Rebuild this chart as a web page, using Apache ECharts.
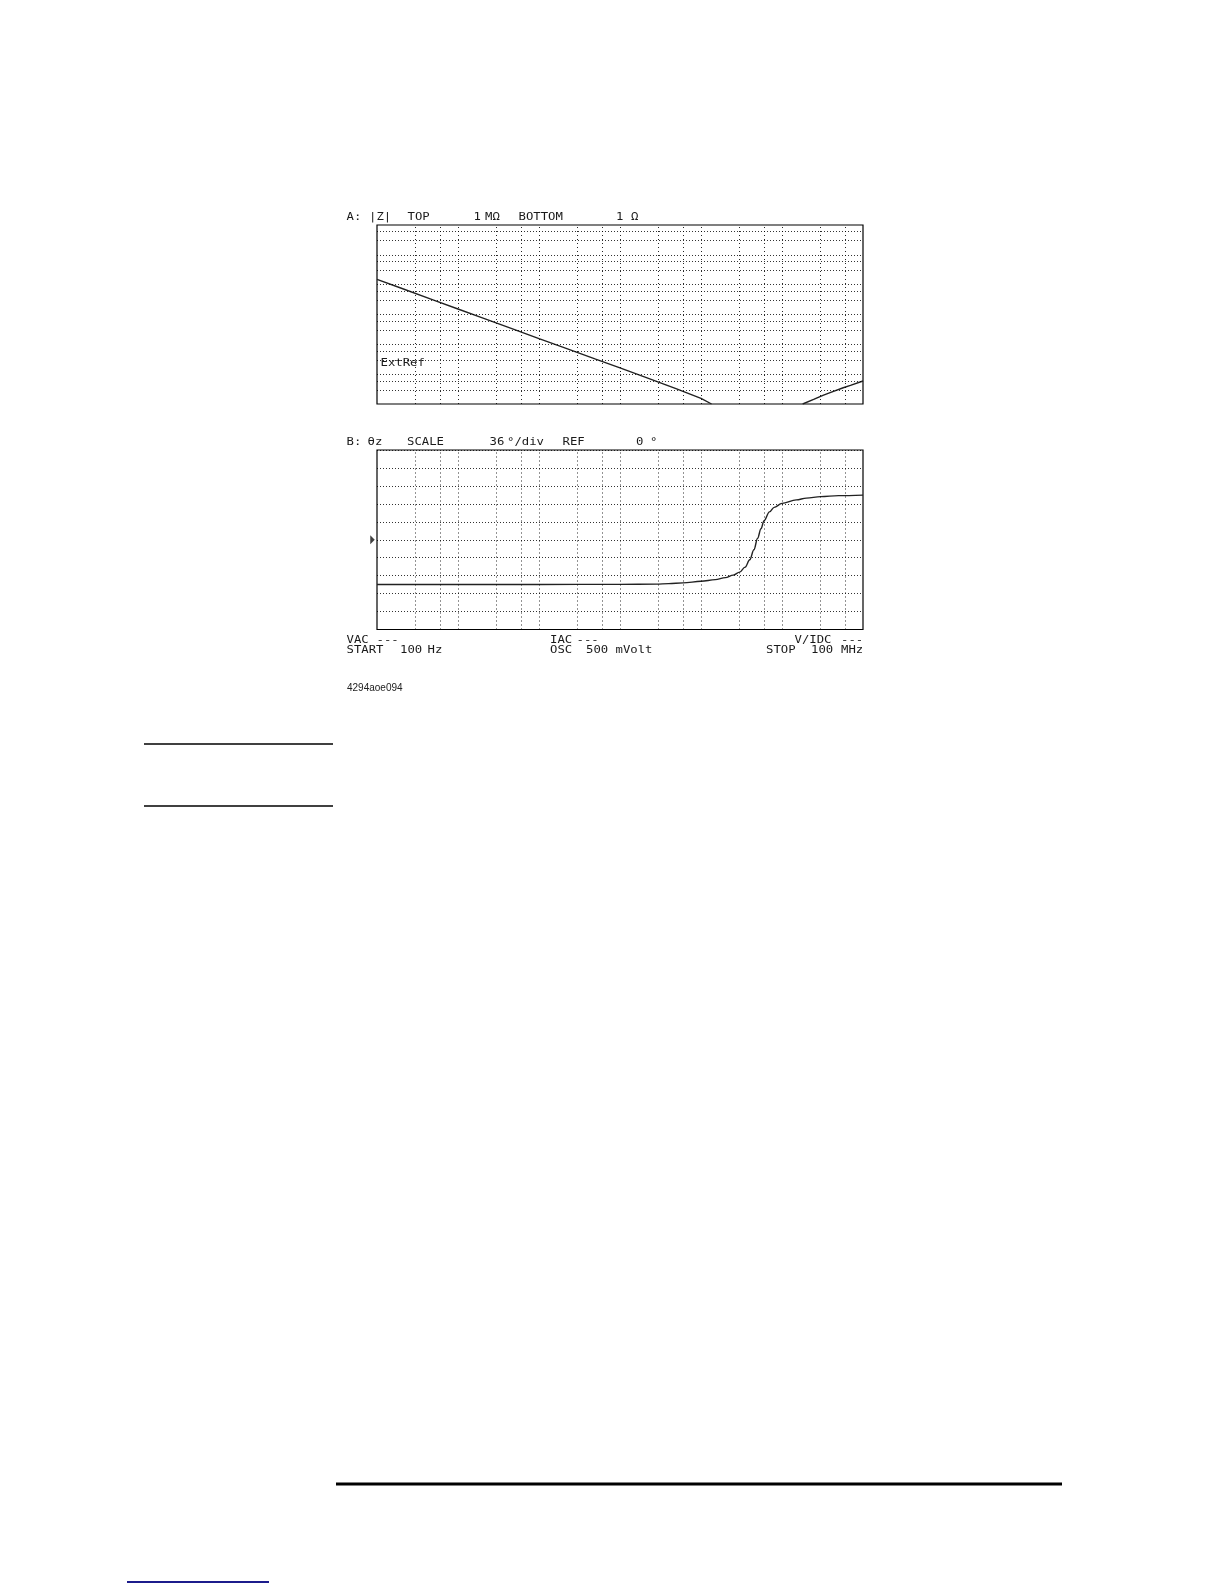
<!DOCTYPE html>
<html><head><meta charset="utf-8">
<script src="https://cdn.jsdelivr.net/npm/echarts@6/dist/echarts.min.js"></script>
<style>html,body{margin:0;padding:0;background:#fff}#c{width:1224px;height:1584px}</style>
</head><body><div id="c"></div>
<script>
const freqStartHz = 100;
const freqStopHz = 1e8;
const zTopOhm = 1e6;
const zBottomOhm = 1;
const phaseMinDeg = -180;
const phaseMaxDeg = 180;
const phaseDegPerDiv = 36;
const phaseRefDeg = 0;

// Trace A : |Z| (ohm) vs frequency (Hz); null = off-scale below BOTTOM
const zFreqHz = [100, 200, 500, 1e3, 2e3, 5e3, 1e4, 2e4, 5e4, 1e5, 2e5, 5e5, 1e6, 1.35e6, 5e6, 1.8e7, 2.5e7, 3.2e7, 4e7, 5.7e7, 7e7, 1e8];
const zMagOhm = [15100, 7600, 3050, 1530, 770, 310, 156, 79, 32, 16.2, 8.1, 3.2, 1.55, 1.0, null, 1.0, 1.45, 1.95, 2.45, 3.5, 4.2, 5.9];

// Trace B : phase of Z (deg) vs frequency (Hz)
const phFreqHz = [100, 1e3, 1e4, 1e5, 2.8e5, 4e5, 6e5, 1e6, 1.5e6, 2e6, 2.5e6, 3e6, 3.5e6, 4e6, 4.5e6, 5e6, 5.5e6, 6e6, 7e6, 8e6, 1e7, 1.5e7, 2e7, 3e7, 5e7, 1e8];
const phDeg = [-89.6, -89.6, -89.6, -89.5, -89.0, -88.0, -86.5, -83.3, -80, -76, -71, -65, -55, -40, -20, 3, 22, 38, 56, 65, 73, 80, 83.5, 86.5, 88.5, 89.5];

// Screen graticule positions
const xGridHz = [300, 600, 1e3, 3e3, 6e3, 1e4, 3e4, 6e4, 1e5, 3e5, 6e5, 1e6, 3e6, 6e6, 1e7, 3e7, 6e7];
const zGridOhm = [3, 6, 10, 30, 60, 100, 300, 600, 1e3, 3e3, 6e3, 1e4, 3e4, 6e4, 1e5, 3e5, 6e5];

// Annotation texts
const headerA = ['A:', '|Z|', 'TOP', '1', 'MΩ', 'BOTTOM', '1', 'Ω'];
const headerB = ['B:', 'θz', 'SCALE', '36', '°/div', 'REF', '0', '°'];
const footer1 = ['VAC', '---', 'IAC', '---', 'V/IDC', '---'];
const footer2 = ['START', '100', 'Hz', 'OSC', '500', 'mVolt', 'STOP', '100', 'MHz'];
const insideLabel = 'ExtRef';
const figureId = '4294aoe094';

// ---------------- layout (positions / styles) ----------------
const G0 = {left: 377, top: 225, width: 486, height: 179};
const G1 = {left: 377, top: 450, width: 486, height: 179.5};
const headerAX = [346.5, 369, 407.5, 473.5, 485, 518.5, 616, 631];
const headerBX = [346.5, 367.5, 407, 489.5, 507, 562.5, 636, 650];
const footer1X = [346.5, 376.5, 550, 576.5, 794.5, 841];
const footer2X = [346.5, 400, 427.5, 550, 586, 615.5, 766, 811, 841];
const monoFont = '10.5px "DejaVu Sans Mono"';
const monoScaleX = 1.17;
const ink = '#1a1a1a';

const chart = echarts.init(document.getElementById('c'), null, {renderer: 'canvas'});

function monoText(str, x, y) {
  return {type: 'text', x: x, y: y, scaleX: monoScaleX, scaleY: 1, silent: true,
    style: {text: str, font: monoFont, fill: ink, textAlign: 'left', textVerticalAlign: 'middle'}};
}
function hLine(x1, x2, y, w, c) {
  return {type: 'line', silent: true, shape: {x1: x1, y1: y, x2: x2, y2: y}, style: {stroke: c, lineWidth: w}};
}

const graphics = [];
headerA.forEach((t, i) => graphics.push(monoText(t, headerAX[i], 217)));
headerB.forEach((t, i) => graphics.push(monoText(t, headerBX[i], 442)));
footer1.forEach((t, i) => graphics.push(monoText(t, footer1X[i], 640)));
footer2.forEach((t, i) => graphics.push(monoText(t, footer2X[i], 650)));
graphics.push(monoText(insideLabel, 380.5, 363.5));
graphics.push({type: 'text', x: 347, y: 688, silent: true,
  style: {text: figureId, font: '10px "Liberation Sans"', fill: '#222', textAlign: 'left', textVerticalAlign: 'middle'}});
graphics.push(hLine(144, 333, 744, 1.6, '#000'));
graphics.push(hLine(144, 333, 806, 1.6, '#000'));
graphics.push(hLine(336, 1062, 1484, 3, '#000'));
graphics.push(hLine(127, 269, 1582, 2, '#1c1c8c'));

const dottedH = {type: [1, 2], color: '#000', width: 1, opacity: 0.8};
const dottedV = {type: [1, 3], color: '#000', width: 1, opacity: 0.85};

const xAxisBase = {type: 'log', logBase: 10, min: freqStartHz, max: freqStopHz,
  axisLine: {show: false}, axisTick: {show: false}, axisLabel: {show: false}, splitLine: {show: false}};

const option = {
  animation: false,
  backgroundColor: '#fff',
  grid: [
    Object.assign({show: true, borderColor: '#000', borderWidth: 1.2, backgroundColor: 'transparent'}, G0),
    Object.assign({show: true, borderColor: '#000', borderWidth: 1.2, backgroundColor: 'transparent'}, G1)
  ],
  xAxis: [Object.assign({gridIndex: 0}, xAxisBase), Object.assign({gridIndex: 1}, xAxisBase)],
  yAxis: [
    {gridIndex: 0, type: 'log', logBase: 10, min: zBottomOhm, max: zTopOhm,
      axisLine: {show: false}, axisTick: {show: false}, axisLabel: {show: false}, splitLine: {show: false}},
    {gridIndex: 1, type: 'value', min: phaseMinDeg, max: phaseMaxDeg, interval: phaseDegPerDiv,
      axisLine: {show: false}, axisTick: {show: false}, axisLabel: {show: false},
      splitLine: {show: true, lineStyle: dottedH}}
  ],
  series: [
    {type: 'line', xAxisIndex: 0, yAxisIndex: 0, data: [], silent: true, z: 1,
      markLine: {silent: true, symbol: ['none', 'none'], label: {show: false}, lineStyle: dottedH, animation: false,
        data: xGridHz.map(v => ({xAxis: v, lineStyle: dottedV})).concat(zGridOhm.map(v => ({yAxis: v, lineStyle: dottedH})))}},
    {type: 'line', xAxisIndex: 1, yAxisIndex: 1, data: [], silent: true, z: 1,
      markLine: {silent: true, symbol: ['none', 'none'], label: {show: false}, lineStyle: dottedV, animation: false,
        data: xGridHz.map(v => ({xAxis: v, lineStyle: dottedV}))}},
    {name: '|Z|', type: 'line', xAxisIndex: 0, yAxisIndex: 0, z: 3, showSymbol: false, clip: true,
      connectNulls: false, lineStyle: {color: '#222', width: 1.4},
      data: zFreqHz.map((f, i) => [f, zMagOhm[i] == null ? '-' : zMagOhm[i]])},
    {name: 'θz', type: 'line', xAxisIndex: 1, yAxisIndex: 1, z: 3, showSymbol: false, clip: true,
      smooth: 0.35, smoothMonotone: 'x', lineStyle: {color: '#222', width: 1.4},
      data: phFreqHz.map((f, i) => [f, phDeg[i]])},
    {name: 'REF', type: 'scatter', xAxisIndex: 1, yAxisIndex: 1, z: 4, clip: false, silent: true,
      symbol: 'path://M0,0L5,5L0,10Z', symbolSize: [4.5, 9], symbolOffset: [-4.5, 0],
      itemStyle: {color: '#111'}, data: [[freqStartHz, phaseRefDeg]]}
  ],
  graphic: graphics
};
chart.setOption(option);
</script>
</body></html>
